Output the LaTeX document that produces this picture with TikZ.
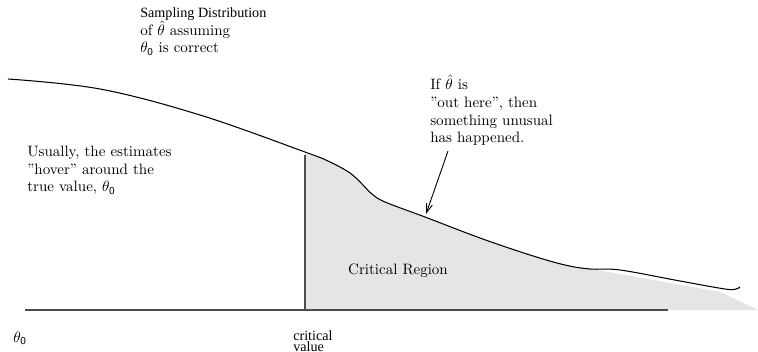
\documentclass[tikz,border=0pt]{standalone}
\usepackage{fontspec}
\newfontfamily\timesf{Liberation Serif}
\usetikzlibrary{arrows.meta}
\begin{document}
\begin{tikzpicture}[x=0.665pt,y=-0.665pt,
  lbl/.style={inner sep=0pt, anchor=base west, align=left, font=\fontsize{10}{11.8}\selectfont},
  small/.style={inner sep=0pt, anchor=base west, align=left, font=\timesf\fontsize{9.4}{7.3}\selectfont},
  axisline/.style={draw=black!70, line width=0.7pt},
  curveline/.style={draw=black, line width=0.7pt},
  region/.style={fill=black!10},
  arrowline/.style={draw=black, line width=0.6pt, -{Straight Barb[length=6pt,width=4pt]}}]
\useasboundingbox (0,0) rectangle (758,352);
% shaded critical region
\fill[region] (305,310) -- plot[smooth, tension=0.6] coordinates {(305,153)(330,162)(350,173)(362,184)(372,194)(385,202)(425,217)(480,238)(530,255)(565,265)(592,269)} -- (720,292) -- (758,310) -- cycle;
% sampling distribution curve
\draw[curveline] plot[smooth, tension=0.6] coordinates {(8,79)(100,89)(200,115)(305,152)(330,162)(350,173)(362,184)(372,194)(385,202)(425,217)(480,238)(530,255)(565,265)(590,269)(620,270)(680,281)(725,289)(736,289)(740,287)};
% axis and critical value line
\coordinate (ax0) at (25,310);
\coordinate (ax1) at (668,310);
\coordinate (cvtop) at (305,155);
\coordinate (cvbot) at (305,310);
\draw[axisline] (ax0) -- (ax1);
\draw[axisline] (cvtop) -- (cvbot);
% labels (base anchor = baseline of last line)
\node[lbl] (samp) at (140,53) {{\timesf\fontsize{9.4}{11}\selectfont Sampling Distribution}\\ of $\hat\theta$ assuming\\ $\theta_{\mathsf 0}$ is correct};
\node[lbl] (usual) at (27,192) {Usually, the estimates\\ ”hover” around the\\ true value, $\theta_{\mathsf 0}$};
\node[lbl] (ifnode) at (430,143) {If $\hat\theta$ is\\ ”out here”, then\\ something unusual\\ has happened.};
\node[lbl, anchor=base] (crit) at (398,274) {Critical Region};
\node[lbl] (th0) at (13,342) {$\theta_{\mathsf 0}$};
\node[small] (cval) at (293,351) {critical\\value};
% arrow
\coordinate (arrS) at (448,151);
\coordinate (arrE) at (426,214);
\draw[arrowline] (arrS) -- (arrE);
\end{tikzpicture}
\end{document}
